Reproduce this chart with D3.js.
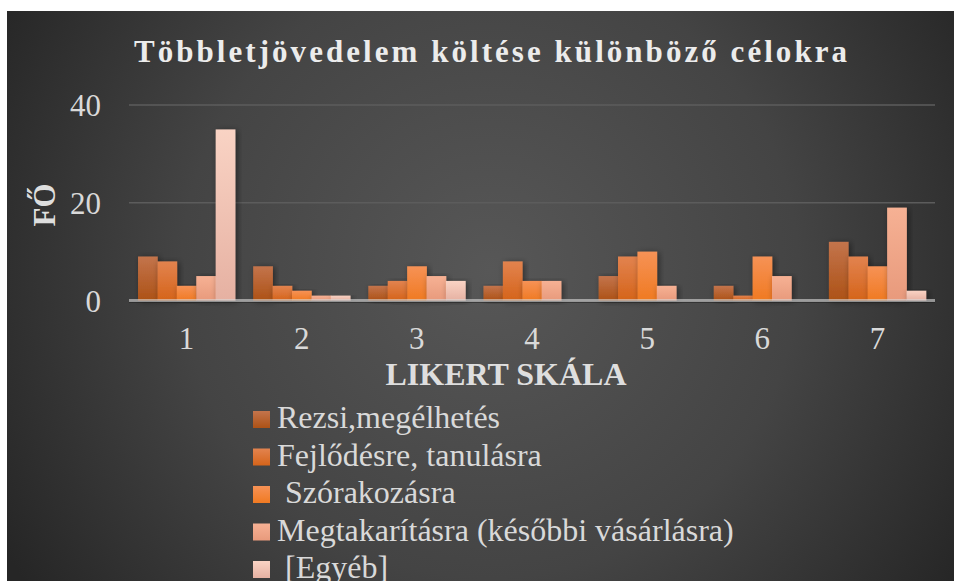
<!DOCTYPE html>
<html><head><meta charset="utf-8">
<script src="https://cdn.jsdelivr.net/npm/d3@7"></script>
<style>body{margin:0;background:#fff;}svg{display:block;}</style>
</head><body>
<svg id="chart" width="954" height="581"></svg>
<script>
const title = "Többletjövedelem költése különböző célokra";
const categories = ["1","2","3","4","5","6","7"];
const seriesNames = ["Rezsi,megélhetés","Fejlődésre, tanulásra"," Szórakozásra","Megtakarításra (későbbi vásárlásra)"," [Egyéb]"];
const rezsi = [9,7,3,3,5,3,12];
const fejlodes = [8,3,4,8,9,1,9];
const szorakozas = [3,2,7,4,10,9,7];
const megtakaritas = [5,1,5,4,3,5,19];
const egyeb = [35,1,4,0,0,0,2];
const yTicks = [0,20,40];
const yLabel = "FŐ";
const xLabel = "LIKERT SKÁLA";
const seriesValues = [rezsi, fejlodes, szorakozas, megtakaritas, egyeb];
const colorsTop = ["#c3744c","#e2834f","#f69256","#f6b194","#f9d3c4"];
const colorsBottom = ["#ad5216","#d5641a","#f07a22","#e89a7c","#e6b1a2"];

const svg = d3.select("#chart");
const defs = svg.append("defs");
const bg = defs.append("radialGradient").attr("id","bg").attr("gradientUnits","userSpaceOnUse")
  .attr("cx",490).attr("cy",270).attr("r",560);
bg.append("stop").attr("offset","0").attr("stop-color","#575757");
bg.append("stop").attr("offset","0.55").attr("stop-color","#444444");
bg.append("stop").attr("offset","1").attr("stop-color","#262626");
seriesNames.forEach((s,i)=>{
  const g = defs.append("linearGradient").attr("id","g"+i).attr("x1",0).attr("y1",0).attr("x2",0).attr("y2",1);
  g.append("stop").attr("offset","0").attr("stop-color",colorsTop[i]);
  g.append("stop").attr("offset","1").attr("stop-color",colorsBottom[i]);
});
const f = defs.append("filter").attr("id","sh").attr("x","-30%").attr("y","-10%").attr("width","160%").attr("height","130%");
f.append("feDropShadow").attr("dx",2).attr("dy",1).attr("stdDeviation",3).attr("flood-color","#000").attr("flood-opacity",0.45);

svg.append("rect").attr("x",7).attr("y",11).attr("width",947).attr("height",570).attr("fill","url(#bg)");

const pLeft = 129, pRight = 935, pTop = 105, pBottom = 300.5;
const x = d3.scaleBand().domain(categories).range([pLeft,pRight]).paddingInner(0.157).paddingOuter(0.0785);
const xs = d3.scaleBand().domain(d3.range(seriesNames.length)).range([0,x.bandwidth()]).padding(0);
const y = d3.scaleLinear().domain([0,40]).range([pBottom,pTop]);

// gridlines
svg.append("g").selectAll("line").data(yTicks.filter(t=>t>0)).join("line")
  .attr("x1",pLeft).attr("x2",pRight).attr("y1",d=>y(d)).attr("y2",d=>y(d))
  .attr("stroke","#5c5c5c").attr("stroke-width",1.5);

// y tick labels
const yAxis = d3.axisLeft(y).tickValues(yTicks).tickSize(0).tickPadding(0);
const ya = svg.append("g").attr("transform",`translate(101,0)`).call(yAxis);
ya.select(".domain").remove();
ya.selectAll("text").attr("font-family","'Liberation Serif','Times New Roman',serif")
  .attr("font-size",31).attr("fill","#d9d9d9").attr("dy","0.34em");

// bars
const gBars = svg.append("g");
categories.forEach((c,ci)=>{
  seriesValues.forEach((vals,si)=>{
    if (vals[ci] <= 0) return;
    gBars.append("rect")
      .attr("x",x(c)+xs(si)).attr("width",xs.bandwidth()+0.3)
      .attr("y",y(vals[ci])).attr("height",pBottom - y(vals[ci]))
      .attr("fill","url(#g"+si+")").attr("filter","url(#sh)");
  });
});

// axis baseline
svg.append("line").attr("x1",pLeft).attr("x2",pRight).attr("y1",pBottom+1.5).attr("y2",pBottom+1.5)
  .attr("stroke","#1e1e1e").attr("stroke-opacity",0.5).attr("stroke-width",2);
svg.append("line").attr("x1",pLeft).attr("x2",pRight).attr("y1",pBottom).attr("y2",pBottom)
  .attr("stroke","#d8d8d8").attr("stroke-opacity",0.6).attr("stroke-width",3);

// x tick labels
const xAxis = d3.axisBottom(x).tickSize(0).tickPadding(0);
const xa = svg.append("g").attr("transform",`translate(0,${pBottom})`).call(xAxis);
xa.select(".domain").remove();
xa.selectAll("text").attr("font-family","'Liberation Serif','Times New Roman',serif")
  .attr("font-size",31).attr("fill","#d9d9d9").attr("dy",null).attr("y",48.5);

// title
svg.append("text").attr("x",134).attr("y",62).text(title)
  .attr("font-family","'Liberation Serif','Times New Roman',serif").attr("font-weight","bold")
  .attr("font-size",31).attr("fill","#ececec")
  .attr("textLength",713).attr("lengthAdjust","spacing");

// axis titles
svg.append("text").attr("transform","translate(55,205) rotate(-90)").attr("text-anchor","middle")
  .text(yLabel).attr("font-family","'Liberation Serif','Times New Roman',serif").attr("font-weight","bold")
  .attr("font-size",31).attr("fill","#dedede");
svg.append("text").attr("x",506).attr("y",385).attr("text-anchor","middle").text(xLabel)
  .attr("font-family","'Liberation Serif','Times New Roman',serif").attr("font-weight","bold")
  .attr("font-size",32).attr("fill","#dedede");

// legend
const lg = svg.append("g");
seriesNames.forEach((s,i)=>{
  const yy = 428 + i*37.5;
  lg.append("rect").attr("x",253).attr("y",yy-17).attr("width",17).attr("height",17).attr("fill","url(#g"+i+")");
  lg.append("text").attr("x",277).attr("y",yy).text(s).style("white-space","pre")
    .attr("font-family","'Liberation Serif','Times New Roman',serif").attr("font-size",32).attr("fill","#d9d9d9");
});
</script>
</body></html>
